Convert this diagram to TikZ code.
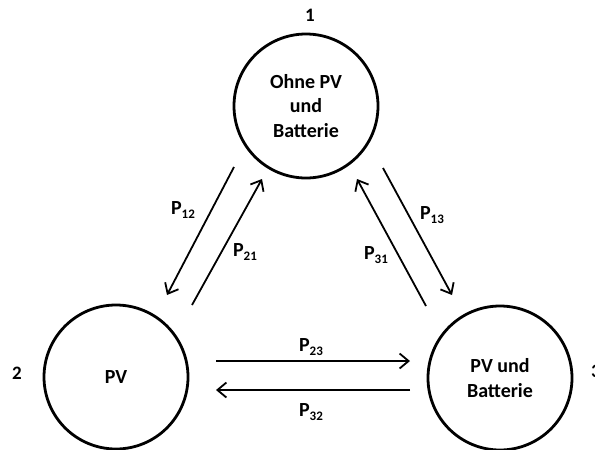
\documentclass[tikz,border=0pt]{standalone}
\usepackage{fontspec}
\setmainfont{Carlito}
\usetikzlibrary{arrows.meta,positioning}
\tikzset{
  state/.style={draw, circle, line width=2.8pt, minimum size=144pt, inner sep=0pt, align=center, font=\bfseries\fontsize{20}{24.5}\selectfont},
  num/.style={font=\bfseries\fontsize{19}{20}\selectfont},
  lbl/.style={inner sep=0pt, font=\bfseries\fontsize{20}{20}\selectfont},
  line/.style={-{Straight Barb[length=9pt,width=15pt]}, line width=1.8pt}
}
\newcommand{\prob}[1]{P\raisebox{-0.45ex}{\fontsize{13}{13}\selectfont #1}}

\begin{document}
\begin{tikzpicture}[x=1pt,y=-1pt]
  \useasboundingbox (0,0) rectangle (595,450);

  \node[state] (ohne) at (306,106) {Ohne PV\\und\\Batterie};
  \node[state] (pv) at (116,377) {PV};
  \node[state] (pvbat) at (500,378) {PV und\\Batterie};

  \node[num] (n1) at (310,15) {1};
  \node[num] (n2) at (17,373) {2};
  \node[num] (n3) at (596,371) {3};

  % arrow end points
  \coordinate (a12) at (234,167);  \coordinate (b12) at (167,295);
  \coordinate (a21) at (192,305);  \coordinate (b21) at (262,179);
  \coordinate (a13) at (383,168);  \coordinate (b13) at (452,295);
  \coordinate (a31) at (426,306);  \coordinate (b31) at (357,179);
  \coordinate (a23) at (216,361);  \coordinate (b23) at (410,361);
  \coordinate (a32) at (410,390);  \coordinate (b32) at (216,390);

  \draw[line] (a12) -- (b12);
  \draw[line] (a21) -- (b21);
  \draw[line] (a13) -- (b13);
  \draw[line] (a31) -- (b31);
  \draw[line] (a23) -- (b23);
  \draw[line] (a32) -- (b32);

  \node[lbl] (p12) at (183,210) {\prob{12}};
  \node[lbl] (p21) at (245,252) {\prob{21}};
  \node[lbl] (p13) at (432,215) {\prob{13}};
  \node[lbl] (p31) at (376,255) {\prob{31}};
  \node[lbl] (p23) at (311,347) {\prob{23}};
  \node[lbl] (p32) at (311,412) {\prob{32}};
\end{tikzpicture}
\end{document}
